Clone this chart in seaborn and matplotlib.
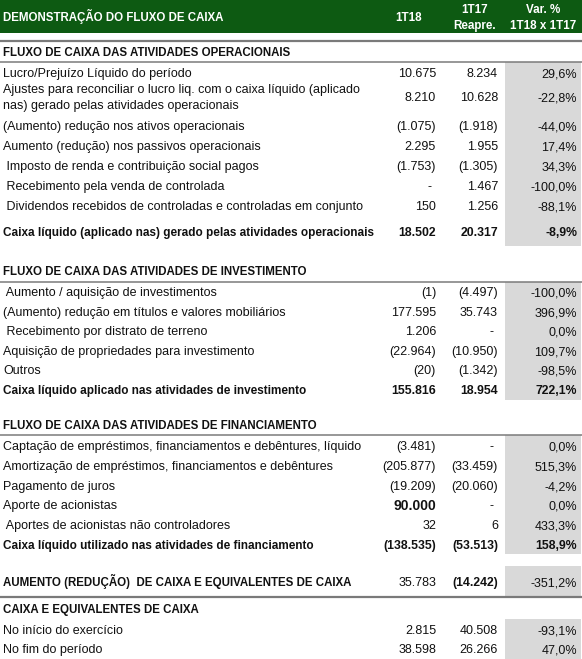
import matplotlib
matplotlib.use("Agg")
import matplotlib.pyplot as plt
from matplotlib.patches import Rectangle
import seaborn as sns

# ---------------- data ----------------
title = "DEMONSTRAÇÃO DO FLUXO DE CAIXA"
col_headers = ["1T18", "1T17\nReapre.", "Var. %\n1T18 x 1T17"]

sec_titles = ["FLUXO DE CAIXA DAS ATIVIDADES OPERACIONAIS",
              "FLUXO DE CAIXA DAS ATIVIDADES DE INVESTIMENTO",
              "FLUXO DE CAIXA DAS ATIVIDADES DE FINANCIAMENTO",
              "CAIXA E EQUIVALENTES DE CAIXA"]

op_labels = ["Lucro/Prejuízo Líquido do período",
             "Ajustes para reconciliar o lucro liq. com o caixa líquido (aplicado\nnas) gerado pelas atividades operacionais",
             "(Aumento) redução nos ativos operacionais",
             "Aumento (redução) nos passivos operacionais",
             " Imposto de renda e contribuição social pagos",
             " Recebimento pela venda de controlada",
             " Dividendos recebidos de controladas e controladas em conjunto",
             "Caixa líquido (aplicado nas) gerado pelas atividades operacionais"]
op_1t18 = [10675, 8210, -1075, 2295, -1753, None, 150, 18502]
op_1t17 = [8234, 10628, -1918, 1955, -1305, 1467, 1256, 20317]
op_var = [29.6, -22.8, -44.0, 17.4, 34.3, -100.0, -88.1, -8.9]

inv_labels = [" Aumento / aquisição de investimentos",
              "(Aumento) redução em títulos e valores mobiliários",
              " Recebimento por distrato de terreno",
              "Aquisição de propriedades para investimento",
              "Outros",
              "Caixa líquido aplicado nas atividades de investimento"]
inv_1t18 = [-1, 177595, 1206, -22964, -20, 155816]
inv_1t17 = [-4497, 35743, None, -10950, -1342, 18954]
inv_var = [-100.0, 396.9, 0.0, 109.7, -98.5, 722.1]

fin_labels = ["Captação de empréstimos, financiamentos e debêntures, líquido",
              "Amortização de empréstimos, financiamentos e debêntures",
              "Pagamento de juros",
              "Aporte de acionistas",
              " Aportes de acionistas não controladores",
              "Caixa líquido utilizado nas atividades de financiamento"]
fin_1t18 = [-3481, -205877, -19209, 90000, 32, -138535]
fin_1t17 = [None, -33459, -20060, None, 6, -53513]
fin_var = [0.0, 515.3, -4.2, 0.0, 433.3, 158.9]

net_label = "AUMENTO (REDUÇÃO)  DE CAIXA E EQUIVALENTES DE CAIXA"
net_1t18 = 35783
net_1t17 = -14242
net_var = -351.2

cash_labels = ["No início do exercício", "No fim do período"]
cash_1t18 = [2815, 38598]
cash_1t17 = [40508, 26266]
cash_var = [-93.1, 47.0]

# ---------------- style ----------------
sns.set_theme(style="white")
plt.rcParams['font.family'] = ['Liberation Sans', 'DejaVu Sans']

GREEN = "#0d5a12"
SHADE = "#d9d9d9"
LINE = "#7a7a7a"
TXT = "#111111"
FS = 9.0        # regular text
FS_B = 8.5      # bold mixed-case labels
FS_BC = 8.3     # bold all-caps labels
FS_BN = 8.8     # bold numbers

W, H = 582, 659
fig = plt.figure(figsize=(W / 100, H / 100), dpi=100)
ax = fig.add_axes([0, 0, 1, 1])
ax.set_xlim(0, W)
ax.set_ylim(H, 0)
ax.axis('off')

X_LABEL = 3
C1, C2, C3 = 436, 498, 577
SH_X0, SH_X1 = 505, 581


def base(y, size):
    # convert a visual centre (px) to a baseline position for cap-height text
    return y + 0.716 * size * 100 / 72 / 2


def fmt_num(v):
    if v is None:
        return "-"
    s = f"{abs(v):,}".replace(",", ".")
    return f"({s})" if v < 0 else s


def fmt_pct(v):
    return f"{v:.1f}".replace(".", ",") + "%"


def shade(y0, y1):
    ax.add_patch(Rectangle((SH_X0, y0), SH_X1 - SH_X0, y1 - y0,
                           facecolor=SHADE, edgecolor='none', zorder=0))


def hline(y, lw):
    ax.plot([0, W], [y, y], color=LINE, lw=lw, solid_capstyle='butt', zorder=2)


def txt(x, y, s, ha, bold, size, color=TXT):
    ax.text(x, base(y, size), s, ha=ha, va='baseline', fontsize=size,
            fontweight='bold' if bold else 'normal', color=color, zorder=3)


def label_size(s, bold):
    if not bold:
        return FS
    return FS_BC if s.upper() == s else FS_B


def val(x, y, v, bold=False, size=None):
    if size is None:
        size = FS_BN if bold else FS
    xx = x - 5 if v is None else x
    txt(xx, y, fmt_num(v), 'right', bold, size)


def row(y, label, v1, v2, pv, bold=False, bold_vals=(None, None, None), big1=False):
    b1, b2, b3 = [bold if b is None else b for b in bold_vals]
    lines = label.split("\n")
    n = len(lines)
    for k, ln in enumerate(lines):
        ly = y + (k - (n - 1) / 2) * 16
        txt(X_LABEL, ly, ln, 'left', bold, label_size(ln, bold))
    val(C1, y, v1, bold=b1 or big1, size=10.0 if big1 else None)
    val(C2, y, v2, bold=b2)
    txt(C3, y, fmt_pct(pv), 'right', b3, FS_BN if b3 else FS)


def section_title(y, text):
    txt(X_LABEL, y, text, 'left', True, FS_BC)


# ---------------- header ----------------
ax.add_patch(Rectangle((0, 0), W, 33, facecolor=GREEN, edgecolor='none', zorder=0))
txt(X_LABEL, 17, title, 'left', True, 8.3, 'white')
txt(409, 17, col_headers[0], 'center', True, 8.4, 'white')
for cx, hdr in [(475, col_headers[1]), (543, col_headers[2])]:
    top, bottom = hdr.split("\n")
    txt(cx, 8.5, top, 'center', True, 8.4, 'white')
    txt(cx, 24.5, bottom, 'center', True, 8.4, 'white')
hline(41, 1.6)

# ---------------- operational ----------------
section_title(52, sec_titles[0])
shade(62, 246)
hline(62, 1.1)
op_y = [73, 97, 126, 146, 166, 186, 206, 232]
for i, y in enumerate(op_y):
    last = i == len(op_y) - 1
    row(y, op_labels[i], op_1t18[i], op_1t17[i], op_var[i], bold=last)

# ---------------- investment ----------------
section_title(271, sec_titles[1])
shade(282, 400)
hline(282, 1.1)
inv_y = [292, 312, 331, 351, 370, 390]
for i, y in enumerate(inv_y):
    last = i == len(inv_y) - 1
    row(y, inv_labels[i], inv_1t18[i], inv_1t17[i], inv_var[i], bold=last)

# ---------------- financing ----------------
section_title(425, sec_titles[2])
shade(435, 554)
hline(435, 1.1)
fin_y = [446, 466, 486, 505, 525, 545]
for i, y in enumerate(fin_y):
    last = i == len(fin_y) - 1
    row(y, fin_labels[i], fin_1t18[i], fin_1t17[i], fin_var[i], bold=last,
        big1=(fin_1t18[i] == 90000))

# ---------------- net change ----------------
shade(566, 596)
row(582, net_label, net_1t18, net_1t17, net_var, bold=True,
    bold_vals=(False, True, False))
hline(597, 1.6)

# ---------------- cash ----------------
section_title(609, sec_titles[3])
shade(619, H)
cash_y = [630, 649]
for i, y in enumerate(cash_y):
    row(y, cash_labels[i], cash_1t18[i], cash_1t17[i], cash_var[i])

fig.savefig("out.png", dpi=100)
